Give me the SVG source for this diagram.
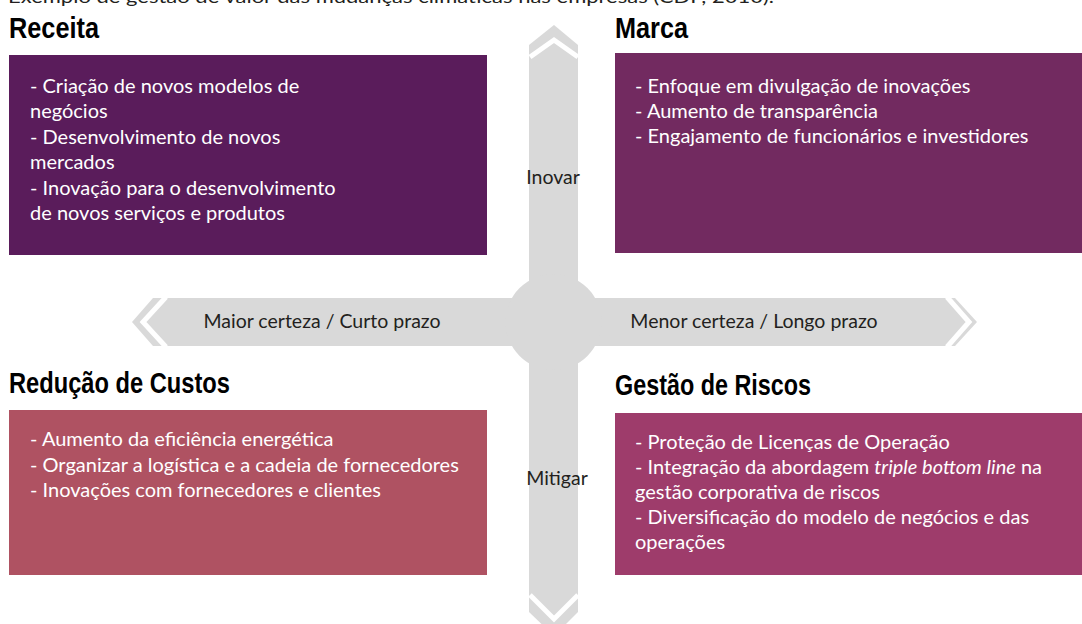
<svg xmlns="http://www.w3.org/2000/svg" width="1082" height="624" viewBox="0 0 1082 624">
<style>
.title{font-family:"Liberation Sans",Arial,sans-serif;font-weight:bold;font-size:29px;fill:#000}
.body{font-family:Lato,"Liberation Sans",sans-serif;font-size:20px;fill:#fff}
.lbl{font-family:Lato,"Liberation Sans",sans-serif;font-size:19.5px;fill:#231f20}
.ax{fill:#d9d9d9}
.chev{fill:none;stroke:#fff;stroke-width:5}
.cap{font-family:Lato,"Liberation Sans",sans-serif;font-size:18px;fill:#231f20}
</style>
<rect width="1082" height="624" fill="#fff"/>
<text class="cap" x="8" y="2.5" textLength="766" lengthAdjust="spacingAndGlyphs">Exemplo de gestão de valor das mudanças climáticas nas empresas (CDP, 2010).</text>
<g id="connectors">
  <polygon class="ax" points="529,45 554,25 578,45 578,612 554,636 529,612"/>
  <polygon class="ax" points="153,298 132,322 153,346 955,346 977,322 955,298"/>
  <circle class="ax" cx="553.5" cy="322" r="48"/>
  <polyline class="chev" points="530,57 554,40 578,57"/>
  <polyline class="chev" points="530,595 554,619 578,595"/>
  <polyline class="chev" points="166,297 143,322 166,347"/>
  <polyline class="chev" points="947,297 969,322 947,347"/>
  <text class="lbl" x="553" y="184" text-anchor="middle">Inovar</text>
  <text class="lbl" x="557" y="485" text-anchor="middle">Mitigar</text>
  <text class="lbl" x="322" y="328" text-anchor="middle">Maior certeza / Curto prazo</text>
  <text class="lbl" x="754" y="328" text-anchor="middle">Menor certeza / Longo prazo</text>
</g>
<g id="receita">
  <text class="title" x="9" y="38" textLength="90" lengthAdjust="spacingAndGlyphs">Receita</text>
  <rect x="9" y="55" width="478" height="200" fill="#5a1c5b"/>
  <text class="body" x="30" y="93">- Criação de novos modelos de</text>
  <text class="body" x="30" y="118.4">negócios</text>
  <text class="body" x="30" y="143.8">- Desenvolvimento de novos</text>
  <text class="body" x="30" y="169.2">mercados</text>
  <text class="body" x="30" y="194.6">- Inovação para o desenvolvimento</text>
  <text class="body" x="30" y="220">de novos serviços e produtos</text>
</g>
<g id="marca">
  <text class="title" x="615" y="38" textLength="73" lengthAdjust="spacingAndGlyphs">Marca</text>
  <rect x="615" y="53" width="467" height="200" fill="#722a60"/>
  <text class="body" x="635" y="93">- Enfoque em divulgação de inovações</text>
  <text class="body" x="635" y="118">- Aumento de transparência</text>
  <text class="body" x="635" y="143">- Engajamento de funcionários e investidores</text>
</g>
<g id="reducao">
  <text class="title" x="9" y="393" textLength="221" lengthAdjust="spacingAndGlyphs">Redução de Custos</text>
  <rect x="9" y="410" width="478" height="165" fill="#af5262"/>
  <text class="body" x="30" y="446">- Aumento da eficiência energética</text>
  <text class="body" x="30" y="471.5">- Organizar a logística e a cadeia de fornecedores</text>
  <text class="body" x="30" y="497">- Inovações com fornecedores e clientes</text>
</g>
<g id="riscos">
  <text class="title" x="615" y="395" textLength="196" lengthAdjust="spacingAndGlyphs">Gestão de Riscos</text>
  <rect x="615" y="413" width="467" height="162" fill="#9e3c6b"/>
  <text class="body" x="635" y="449">- Proteção de Licenças de Operação</text>
  <text class="body" x="635" y="474">- Integração da abordagem <tspan font-style="italic">triple bottom line</tspan> na</text>
  <text class="body" x="635" y="499">gestão corporativa de riscos</text>
  <text class="body" x="635" y="524">- Diversificação do modelo de negócios e das</text>
  <text class="body" x="635" y="549">operações</text>
</g>
</svg>
